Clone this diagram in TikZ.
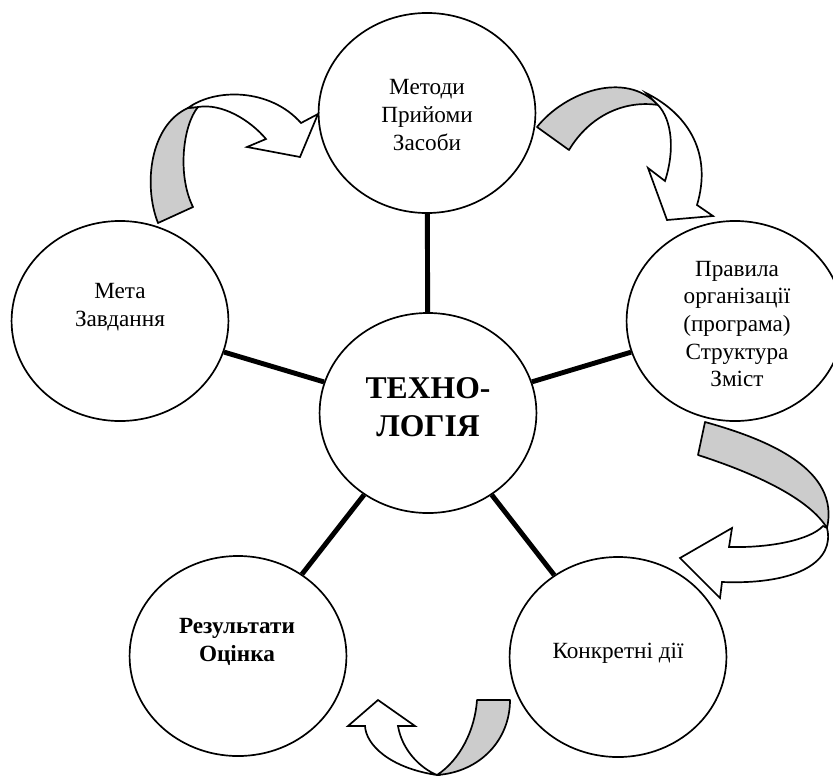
\documentclass[tikz,border=0pt]{standalone}
\usepackage{fontspec}
\setmainfont{Liberation Serif}
\usetikzlibrary{shapes.geometric}

\begin{document}
\begin{tikzpicture}[x=0.025cm,y=-0.025cm,
  bubble/.style={ellipse,draw,line width=1.2pt,fill=white,minimum width=5.42cm,minimum height=5cm,inner sep=0pt},
  txt/.style={align=center,font=\fontsize{16.5}{19.6}\selectfont},
  boldtxt/.style={align=center,font=\bfseries\fontsize{16.5}{19.6}\selectfont},
  spoke/.style={line width=3.5pt},
  back/.style={draw,fill=black!20,line width=1.2pt,line join=round},
  front/.style={draw,fill=white,line width=1.2pt,line join=miter}]
\useasboundingbox (0,0) rectangle (833,775);

\node[bubble] (tech) at (428,413) {};
\node[bubble] (meth) at (427,113) {};
\node[bubble] (goal) at (120,321) {};
\node[bubble] (rules) at (735,321) {};
\node[bubble] (result) at (238,656) {};
\node[bubble] (acts) at (618,657) {};

\draw[spoke] (tech) -- (meth);
\draw[spoke] (tech) -- (goal);
\draw[spoke] (tech) -- (rules);
\draw[spoke] (tech) -- (result);
\draw[spoke] (tech) -- (acts);

\node[txt] (methText) at (427,115) {Методи\\Прийоми\\Засоби};
\node[txt] (goalText) at (120,307) {Мета\\Завдання};
\node[txt] (rulesText) at (737,324) {Правила\\організації\\(програма)\\Структура\\Зміст};
\node[align=center,font=\bfseries\fontsize{22.5}{27}\selectfont] (techText) at (428,407) {ТЕХНО-\\ЛОГІЯ};
\node[boldtxt] (resultText) at (237,642) {Результати\\Оцінка};
\node[txt] (actsText) at (618,653) {Конкретні дії};

\draw[back] (158,223) .. controls (143,185) and (150,125) .. (188,108) -- (198,107) .. controls (183,125) and (177,175) .. (193,207) -- cycle;
\draw[front] (188,108) .. controls (215,88) and (270,88) .. (301,123) -- (318,114) -- (300,157) -- (247,147) -- (266,139) .. controls (250,120) and (222,103) .. (198,107) -- cycle;

\draw[back] (537,127) .. controls (565,92) and (625,70) .. (658,105) .. controls (625,100) and (590,115) .. (569,150) -- cycle;
\draw[front] (646,93) .. controls (690,115) and (712,155) .. (697,205) -- (713,216) -- (667,220) -- (648,168) -- (665,181) .. controls (675,150) and (672,120) .. (658,105) -- cycle;

\draw[back] (705,422) .. controls (770,440) and (840,470) .. (827,528) .. controls (810,500) and (760,475) .. (698,455) -- cycle;
\draw[front] (827,528) .. controls (835,560) and (800,585) .. (722,582) -- (720,598) -- (680,558) -- (732,528) -- (729,547) .. controls (770,548) and (810,540) .. (823,526) -- cycle;

\draw[back] (477,700) -- (510,700) .. controls (510,740) and (480,772) .. (437,775) .. controls (460,760) and (475,730) .. (477,700) -- cycle;
\draw[front] (437,775) .. controls (390,768) and (366,745) .. (365,726) -- (348,726) -- (378,700) -- (415,726) -- (398,726) .. controls (402,750) and (420,768) .. (437,775) -- cycle;

\end{tikzpicture}
\end{document}
